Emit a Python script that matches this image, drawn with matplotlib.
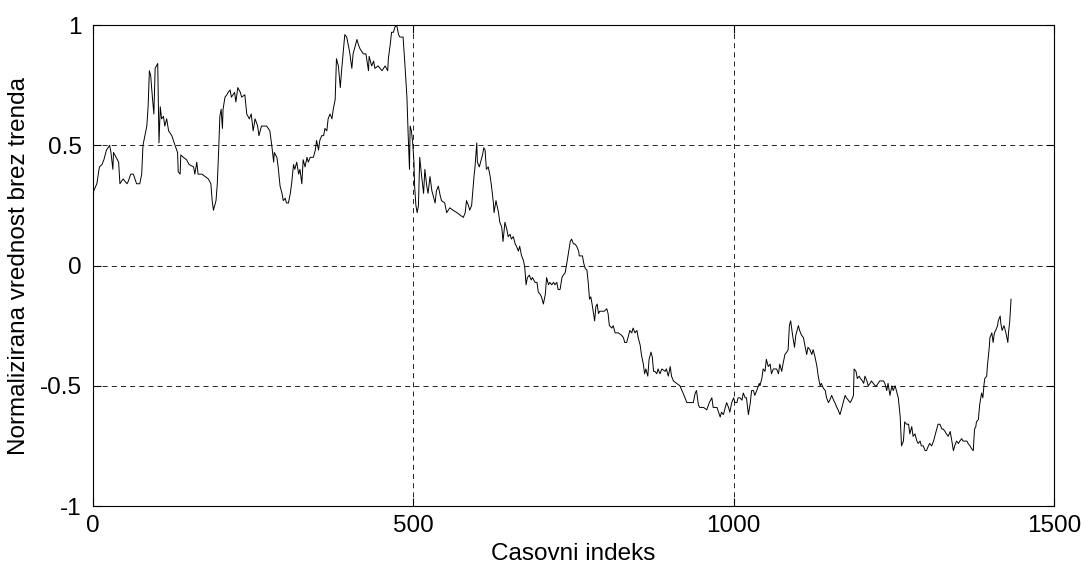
import matplotlib
matplotlib.use("Agg")
import matplotlib.pyplot as plt
import numpy as np

plt.rcParams['font.family'] = ['Liberation Sans', 'DejaVu Sans']

# casovni indeks in normalizirana vrednost (brez trenda)
idx = [0, 1, 6, 10, 14, 17, 21, 26, 28, 31, 32, 36, 40, 42, 47, 53, 55, 59, 63, 68,
       73, 76, 78, 81, 84, 86, 88, 90, 93, 95, 97, 99, 101, 103, 105, 107, 110, 112, 115, 118,
       123, 128, 132, 133, 136, 137, 141, 146, 150, 157, 159, 162, 164, 170, 175, 180, 184, 186, 188, 192,
       194, 196, 198, 200, 202, 203, 206, 209, 211, 214, 216, 221, 223, 226, 230, 232, 237, 240, 244, 247,
       250, 253, 257, 259, 263, 271, 276, 279, 282, 283, 287, 289, 292, 295, 297, 300, 302, 305, 308, 310,
       313, 315, 318, 321, 323, 326, 328, 331, 334, 336, 339, 344, 347, 349, 352, 354, 357, 360, 362, 365,
       367, 370, 373, 375, 378, 379, 380, 383, 386, 388, 391, 393, 396, 399, 401, 404, 406, 409, 412, 414,
       417, 422, 426, 430, 431, 435, 438, 440, 445, 451, 456, 460, 461, 464, 466, 469, 471, 474, 477, 479,
       482, 484, 487, 490, 492, 494, 495, 497, 499, 501, 502, 504, 506, 508, 510, 513, 516, 518, 521, 523,
       526, 529, 531, 534, 536, 539, 542, 544, 549, 552, 557, 562, 568, 573, 578, 581, 583, 586, 588, 591,
       595, 596, 599, 600, 603, 606, 608, 610, 612, 614, 617, 620, 622, 625, 626, 629, 633, 635, 638, 640,
       643, 646, 648, 651, 653, 656, 659, 661, 664, 666, 669, 672, 674, 676, 678, 681, 684, 686, 690, 693,
       695, 698, 700, 703, 706, 708, 711, 713, 716, 719, 721, 724, 726, 729, 732, 734, 737, 739, 742, 745,
       747, 750, 752, 755, 758, 759, 762, 764, 766, 768, 771, 773, 775, 777, 779, 783, 785, 787, 789, 791,
       795, 798, 802, 804, 806, 810, 812, 815, 820, 825, 828, 830, 833, 836, 838, 841, 843, 846, 849, 851,
       854, 856, 859, 861, 863, 866, 868, 871, 873, 875, 877, 880, 882, 885, 888, 893, 895, 898, 901, 903,
       906, 911, 916, 921, 924, 927, 932, 937, 940, 942, 945, 947, 953, 958, 962, 966, 968, 974, 979, 981,
       984, 987, 989, 992, 994, 997, 1000, 1002, 1005, 1007, 1010, 1013, 1015, 1018, 1020, 1023, 1026, 1028, 1031, 1033,
       1036, 1040, 1041, 1044, 1046, 1049, 1051, 1054, 1057, 1059, 1062, 1067, 1070, 1072, 1075, 1077, 1080, 1083, 1085, 1087,
       1089, 1092, 1095, 1097, 1101, 1103, 1106, 1109, 1111, 1114, 1116, 1119, 1122, 1124, 1127, 1130, 1132, 1135, 1137, 1140,
       1143, 1145, 1148, 1150, 1153, 1156, 1158, 1161, 1163, 1166, 1169, 1171, 1174, 1176, 1179, 1182, 1184, 1187, 1188, 1191,
       1193, 1196, 1198, 1201, 1203, 1205, 1208, 1210, 1213, 1215, 1218, 1221, 1223, 1228, 1234, 1236, 1239, 1241, 1244, 1247,
       1249, 1252, 1254, 1257, 1260, 1262, 1265, 1267, 1270, 1273, 1275, 1278, 1280, 1283, 1286, 1288, 1291, 1293, 1296, 1299,
       1301, 1304, 1306, 1309, 1312, 1314, 1317, 1319, 1322, 1325, 1327, 1330, 1332, 1335, 1338, 1340, 1343, 1345, 1348, 1351,
       1353, 1356, 1358, 1361, 1364, 1366, 1369, 1371, 1374, 1376, 1378, 1379, 1382, 1384, 1387, 1389, 1391, 1392, 1395, 1396,
       1399, 1400, 1403, 1405, 1407, 1409, 1412, 1413, 1416, 1417, 1419, 1422, 1425, 1428, 1429, 1431, 1433]
vals = [0.25, 0.31, 0.34, 0.41, 0.42, 0.44, 0.48, 0.50, 0.47, 0.40, 0.47, 0.45, 0.43, 0.34, 0.36, 0.34, 0.35, 0.38, 0.38, 0.34,
        0.34, 0.38, 0.50, 0.54, 0.58, 0.66, 0.81, 0.79, 0.69, 0.63, 0.82, 0.83, 0.84, 0.51, 0.66, 0.61, 0.62, 0.58, 0.61, 0.56,
        0.54, 0.50, 0.47, 0.39, 0.38, 0.46, 0.45, 0.44, 0.42, 0.41, 0.38, 0.43, 0.38, 0.38, 0.37, 0.36, 0.34, 0.27, 0.23, 0.27,
        0.34, 0.47, 0.62, 0.65, 0.57, 0.65, 0.70, 0.71, 0.72, 0.73, 0.70, 0.72, 0.68, 0.74, 0.72, 0.70, 0.71, 0.63, 0.61, 0.63,
        0.56, 0.61, 0.58, 0.54, 0.58, 0.58, 0.56, 0.50, 0.43, 0.47, 0.45, 0.41, 0.33, 0.30, 0.27, 0.28, 0.26, 0.26, 0.30, 0.34,
        0.42, 0.40, 0.43, 0.38, 0.40, 0.34, 0.44, 0.41, 0.45, 0.43, 0.45, 0.45, 0.48, 0.52, 0.48, 0.52, 0.54, 0.54, 0.57, 0.56,
        0.61, 0.63, 0.61, 0.65, 0.69, 0.77, 0.86, 0.83, 0.74, 0.81, 0.90, 0.96, 0.95, 0.91, 0.88, 0.82, 0.88, 0.91, 0.94, 0.92,
        0.90, 0.88, 0.88, 0.81, 0.87, 0.83, 0.85, 0.82, 0.83, 0.81, 0.83, 0.81, 0.86, 0.92, 0.97, 0.97, 0.99, 1.00, 0.96, 0.95,
        0.95, 0.95, 0.83, 0.70, 0.54, 0.40, 0.58, 0.56, 0.51, 0.43, 0.33, 0.25, 0.22, 0.25, 0.45, 0.37, 0.30, 0.40, 0.33, 0.30,
        0.37, 0.31, 0.29, 0.26, 0.31, 0.33, 0.29, 0.27, 0.26, 0.22, 0.24, 0.23, 0.22, 0.21, 0.20, 0.22, 0.27, 0.25, 0.23, 0.25,
        0.38, 0.40, 0.51, 0.43, 0.41, 0.44, 0.46, 0.49, 0.48, 0.40, 0.41, 0.37, 0.33, 0.26, 0.22, 0.27, 0.22, 0.18, 0.16, 0.10,
        0.18, 0.15, 0.12, 0.13, 0.11, 0.12, 0.09, 0.08, 0.06, 0.08, 0.04, 0.02, -0.01, -0.08, -0.05, -0.04, -0.06, -0.05, -0.07, -0.07,
        -0.11, -0.12, -0.13, -0.16, -0.12, -0.05, -0.08, -0.07, -0.08, -0.07, -0.08, -0.07, -0.10, -0.10, -0.05, -0.04, -0.03, 0.00, 0.05, 0.10,
        0.11, 0.09, 0.09, 0.08, 0.06, 0.04, 0.04, 0.04, 0.01, -0.01, -0.02, -0.07, -0.14, -0.13, -0.16, -0.23, -0.17, -0.16, -0.20, -0.19,
        -0.19, -0.19, -0.18, -0.20, -0.25, -0.26, -0.25, -0.28, -0.28, -0.29, -0.30, -0.32, -0.32, -0.29, -0.27, -0.28, -0.26, -0.28, -0.27, -0.30,
        -0.33, -0.37, -0.41, -0.45, -0.43, -0.46, -0.39, -0.36, -0.38, -0.44, -0.44, -0.45, -0.43, -0.45, -0.43, -0.44, -0.43, -0.46, -0.42, -0.46,
        -0.48, -0.49, -0.50, -0.53, -0.55, -0.57, -0.57, -0.57, -0.53, -0.52, -0.58, -0.59, -0.59, -0.60, -0.57, -0.55, -0.59, -0.59, -0.63, -0.61,
        -0.62, -0.59, -0.57, -0.59, -0.61, -0.57, -0.55, -0.57, -0.57, -0.55, -0.55, -0.56, -0.53, -0.55, -0.55, -0.62, -0.57, -0.52, -0.52, -0.54,
        -0.52, -0.49, -0.50, -0.47, -0.43, -0.44, -0.39, -0.42, -0.41, -0.45, -0.43, -0.43, -0.45, -0.41, -0.44, -0.41, -0.37, -0.36, -0.35, -0.25,
        -0.23, -0.29, -0.34, -0.29, -0.25, -0.27, -0.29, -0.30, -0.33, -0.37, -0.34, -0.35, -0.37, -0.35, -0.38, -0.42, -0.46, -0.50, -0.49, -0.51,
        -0.52, -0.55, -0.57, -0.56, -0.54, -0.56, -0.57, -0.59, -0.60, -0.62, -0.59, -0.57, -0.54, -0.55, -0.56, -0.57, -0.56, -0.54, -0.43, -0.44,
        -0.47, -0.46, -0.47, -0.48, -0.49, -0.46, -0.48, -0.50, -0.49, -0.48, -0.49, -0.50, -0.50, -0.48, -0.48, -0.49, -0.52, -0.49, -0.54, -0.50,
        -0.52, -0.50, -0.52, -0.55, -0.63, -0.75, -0.73, -0.65, -0.66, -0.66, -0.70, -0.67, -0.71, -0.70, -0.73, -0.74, -0.73, -0.75, -0.75, -0.77,
        -0.77, -0.75, -0.74, -0.75, -0.73, -0.71, -0.68, -0.66, -0.66, -0.68, -0.68, -0.69, -0.70, -0.71, -0.69, -0.72, -0.77, -0.75, -0.73, -0.74,
        -0.73, -0.72, -0.73, -0.73, -0.73, -0.74, -0.75, -0.76, -0.77, -0.68, -0.67, -0.65, -0.64, -0.58, -0.53, -0.55, -0.49, -0.47, -0.46, -0.42,
        -0.34, -0.30, -0.28, -0.32, -0.28, -0.27, -0.25, -0.23, -0.21, -0.24, -0.27, -0.25, -0.28, -0.32, -0.28, -0.23, -0.14]

fig = plt.figure(figsize=(10.84, 5.69), dpi=100)
ax = fig.add_axes([0.0858, 0.1107, 0.8865, 0.8453])

ax.plot(idx, vals, color='k', linewidth=0.7)

ax.set_xlim(0, 1500)
ax.set_ylim(-1, 1)
ax.set_xticks([0, 500, 1000, 1500])
ax.set_yticks([-1, -0.5, 0, 0.5, 1])
ax.set_yticklabels(['-1', '-0.5', '0', '0.5', '1'])

# MATLAB-like: dashed grid, ticks inside on all four sides
ax.grid(True, color='k', linestyle=(0, (6, 5)), linewidth=0.6)
ax.tick_params(direction='in', top=True, right=True, length=6, width=0.8,
               labelsize=17.5)
ax.tick_params(axis='x', pad=6.5)
ax.tick_params(axis='y', pad=8)
for s in ax.spines.values():
    s.set_linewidth(0.8)

ax.set_xlabel('Casovni indeks', fontsize=17.5, labelpad=4)
ax.set_ylabel('Normalizirana vrednost brez trenda', fontsize=17.5, labelpad=7)

fig.savefig('out.png', dpi=100)
